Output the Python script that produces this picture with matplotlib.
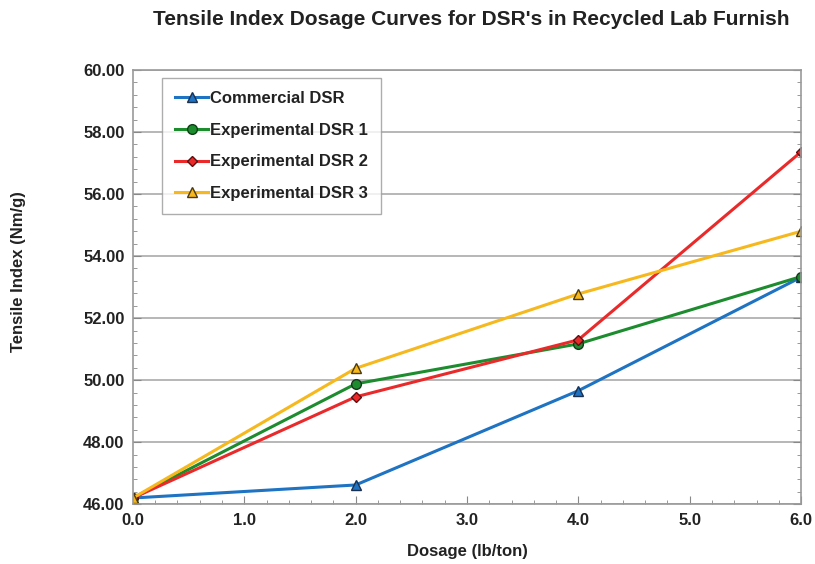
import numpy as np
import matplotlib.pyplot as plt
from matplotlib.ticker import MultipleLocator

plt.rcParams['font.family'] = ['Liberation Sans', 'DejaVu Sans']

dosage = [0.0, 2.0, 4.0, 6.0]
commercial = [46.2, 46.62, 49.66, 53.32]
exp1 = [46.2, 49.88, 51.17, 53.34]
exp2 = [46.2, 49.46, 51.3, 57.36]
exp3 = [46.2, 50.38, 52.78, 54.8]

fig = plt.figure(figsize=(8.15, 5.64), dpi=100)
ax = fig.add_axes([0.163, 0.106, 0.82, 0.77])

ax.plot(dosage, commercial, color='#1e73c2', lw=2.2, marker='^', ms=6.5, mfc='#1e73c2', mec='#1a3050', label='Commercial DSR')
ax.plot(dosage, exp1, color='#1c8c2e', lw=2.2, marker='o', ms=7, mfc='#1c8c2e', mec='#123a18', label='Experimental DSR 1')
ax.plot(dosage, exp2, color='#ea2a2a', lw=2.2, marker='D', ms=5.5, mfc='#ea2a2a', mec='#5a1010', label='Experimental DSR 2')
ax.plot(dosage, exp3, color='#f6b81c', lw=2.2, marker='^', ms=7, mfc='#f6b81c', mec='#4a3a10', label='Experimental DSR 3')

ax.set_xlim(0, 6)
ax.set_ylim(46, 60)
ax.xaxis.set_minor_locator(MultipleLocator(0.2))
ax.yaxis.set_minor_locator(MultipleLocator(0.4))
ax.set_yticks(np.arange(46, 60.1, 2))
ax.set_yticklabels([f'{v:.2f}' for v in np.arange(46, 60.1, 2)])
ax.set_xticks(np.arange(0, 6.1, 1))
ax.set_xticklabels([f'{v:.1f}' for v in np.arange(0, 6.1, 1)])
ax.tick_params(which='both', direction='in', color='#888888', right=True, top=False, labelsize=12)
ax.tick_params(which='major', length=6, pad=6)
ax.tick_params(which='minor', length=3)
for lab in ax.get_xticklabels() + ax.get_yticklabels():
    lab.set_fontweight('bold')
    lab.set_color('#222222')

ax.grid(True, axis='y', color='#aaaaaa', lw=1.2)
ax.set_axisbelow(True)
for s in ax.spines.values():
    s.set_color('#999999')
    s.set_linewidth(1.2)

ax.set_xlabel('Dosage (lb/ton)', fontsize=12, fontweight='bold', color='#222222')
ax.xaxis.set_label_coords(0.5, -0.092)
ax.set_ylabel('Tensile Index (Nm/g)', fontsize=12, fontweight='bold', color='#222222')
ax.yaxis.set_label_coords(-0.16, 0.535)
fig.suptitle("Tensile Index Dosage Curves for DSR's in Recycled Lab Furnish", x=0.578, y=0.982,
             fontsize=15, fontweight='bold', color='#222222')

leg = ax.legend(loc='upper left', bbox_to_anchor=(0.043, 0.982), borderaxespad=0, fontsize=12, frameon=True,
                fancybox=False, edgecolor='#999999', handlelength=2.0, handletextpad=0.1, labelspacing=1.0,
                borderpad=0.8)
for t in leg.get_texts():
    t.set_fontweight('bold')
    t.set_color('#222222')

plt.savefig('out.png', dpi=100)
